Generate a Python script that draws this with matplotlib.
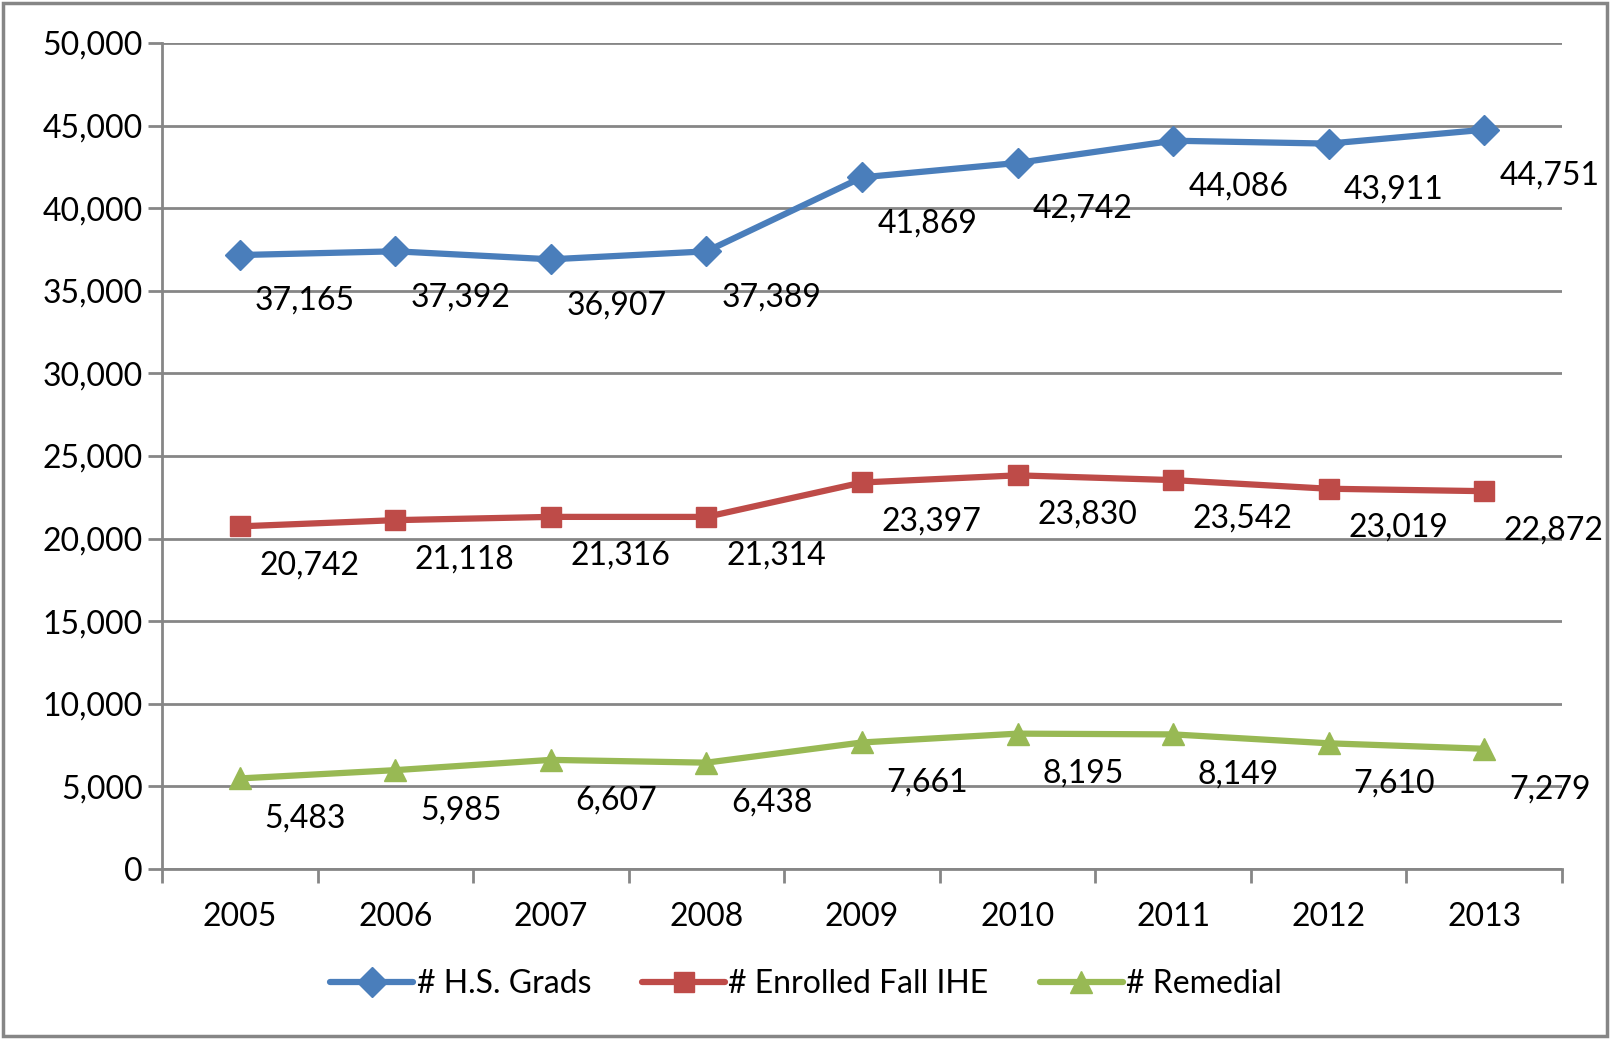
import numpy as np
import matplotlib.pyplot as plt
from matplotlib.patches import Rectangle

# Data
years = ['2005', '2006', '2007', '2008', '2009', '2010', '2011', '2012', '2013']
hs_grads = [37165, 37392, 36907, 37389, 41869, 42742, 44086, 43911, 44751]
enrolled = [20742, 21118, 21316, 21314, 23397, 23830, 23542, 23019, 22872]
remedial = [5483, 5985, 6607, 6438, 7661, 8195, 8149, 7610, 7279]

plt.rcParams['font.family'] = ['Lato', 'DejaVu Sans']
fs = 23

fig = plt.figure(figsize=(16.12, 10.39), dpi=100)
ax = fig.add_axes([0.1005, 0.1636, 0.8685, 0.795])

x = np.arange(len(years))
series = [
    (hs_grads, '#4A7EBB', 'D', 15, '# H.S. Grads', (47, -33)),
    (enrolled, '#BE4B48', 's', 15, '# Enrolled Fall IHE', (50, -28)),
    (remedial, '#98B954', '^', 16, '# Remedial', (47, -29)),
]
for vals, color, marker, ms, label, off in series:
    ax.plot(x, vals, color=color, lw=4.5, marker=marker, markersize=ms,
            label=label, solid_capstyle='round', zorder=3)
    for xi, v in zip(x, vals):
        ax.annotate(f'{v:,}', (xi, v), textcoords='offset points', xytext=off,
                    ha='center', va='center', fontsize=fs, color='black',
                    zorder=4, annotation_clip=False)

grid_color = '#868686'
ax.set_ylim(0, 50000)
ax.set_yticks(np.arange(0, 50001, 5000))
ax.yaxis.set_major_formatter(plt.FuncFormatter(lambda v, p: f'{int(v):,}'))
ax.set_xlim(-0.5, len(years) - 0.5)
ax.set_xticks(np.arange(-0.5, len(years)))
ax.set_xticklabels([])
ax.set_xticks(x, minor=True)
ax.set_xticklabels(years, minor=True)
ax.tick_params(axis='x', which='minor', length=0, pad=24, labelsize=fs)
ax.tick_params(axis='x', which='major', length=10, width=2, color=grid_color, direction='out')
ax.tick_params(axis='y', length=10, width=2, color=grid_color, direction='out', pad=4, labelsize=fs)

ax.grid(axis='y', color=grid_color, lw=2, zorder=0)
for s in ['top', 'right']:
    ax.spines[s].set_visible(False)
for s in ['left', 'bottom']:
    ax.spines[s].set_color(grid_color)
    ax.spines[s].set_linewidth(2)

# legend is centred on the whole figure, not the plot area
fig.legend(loc='center', bbox_to_anchor=(0.5, 0.053), ncol=3, frameon=False,
           fontsize=fs, handlelength=2.6, handletextpad=0.1, columnspacing=1.6,
           borderaxespad=0)

fig.patches.append(Rectangle((0.002, 0.003), 0.995, 0.994, transform=fig.transFigure,
                             fill=False, edgecolor='#868686', lw=2.5))

fig.savefig('out.png', dpi=100)
